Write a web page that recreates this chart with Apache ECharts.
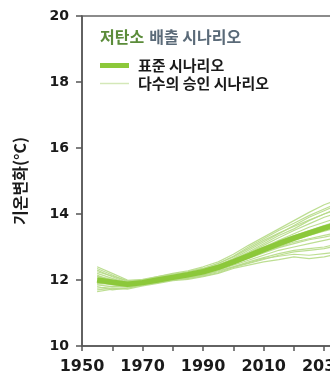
<!DOCTYPE html>
<html>
<head>
<meta charset="utf-8">
<script src="https://cdn.jsdelivr.net/npm/echarts@6/dist/echarts.min.js"></script>
<style>html,body{margin:0;padding:0;background:#fff;overflow:hidden;width:330px;height:380px;}#c{width:410px;height:380px;}</style>
</head>
<body>
<div id="c"></div>
<script>
const years = [1955,1960,1965,1970,1975,1980,1985,1990,1995,2000,2005,2010,2015,2020,2025,2030,2035];
const standard = [12.0,11.93,11.87,11.92,12.0,12.08,12.16,12.25,12.38,12.55,12.73,12.92,13.1,13.27,13.42,13.57,13.7];
const ens1  = [12.35,12.15,11.95,12.0,12.1,12.2,12.28,12.4,12.55,12.78,13.05,13.3,13.55,13.8,14.05,14.28,14.45];
const ens2  = [11.7,11.75,11.72,11.82,11.9,11.98,12.02,12.1,12.2,12.35,12.45,12.55,12.62,12.7,12.65,12.7,12.8];
const ens3  = [12.2,12.05,11.9,11.95,12.05,12.12,12.2,12.32,12.45,12.62,12.85,13.1,13.35,13.55,13.8,14.0,14.2];
const ens4  = [11.85,11.8,11.8,11.88,11.95,12.02,12.1,12.18,12.3,12.45,12.6,12.75,12.9,13.0,13.1,13.2,13.3];
const ens5  = [12.1,11.98,11.85,11.9,12.02,12.1,12.15,12.25,12.4,12.6,12.8,13.0,13.2,13.4,13.6,13.75,13.9];
const ens6  = [11.9,11.88,11.82,11.95,11.98,12.05,12.18,12.28,12.42,12.52,12.7,12.88,13.0,13.15,13.25,13.35,13.45];
const ens7  = [12.3,12.1,11.92,11.9,12.0,12.12,12.22,12.3,12.45,12.65,12.9,13.15,13.4,13.65,13.9,14.1,14.3];
const ens8  = [11.75,11.8,11.78,11.85,11.95,12.0,12.08,12.15,12.28,12.4,12.55,12.68,12.8,12.9,12.95,13.0,13.1];
const ens9  = [12.05,12.0,11.9,11.98,12.08,12.15,12.2,12.3,12.42,12.58,12.78,12.98,13.18,13.35,13.5,13.65,13.8];
const ens10 = [11.95,11.85,11.8,11.88,11.95,12.05,12.12,12.22,12.35,12.5,12.68,12.85,13.02,13.2,13.35,13.48,13.6];
const ens11 = [12.25,12.12,11.98,12.02,12.1,12.18,12.25,12.35,12.5,12.7,12.95,13.2,13.42,13.62,13.82,14.0,14.15];
const ens12 = [11.8,11.7,11.75,11.85,11.92,12.0,12.05,12.12,12.22,12.38,12.5,12.62,12.75,12.85,12.9,12.95,13.05];
const ens13 = [12.15,11.95,11.88,11.95,12.05,12.1,12.2,12.3,12.45,12.62,12.82,13.05,13.28,13.5,13.7,13.9,14.05];
const ens14 = [11.88,11.9,11.85,11.9,11.98,12.08,12.15,12.25,12.35,12.5,12.65,12.82,12.98,13.1,13.22,13.3,13.4];
const ens15 = [12.0,11.95,11.9,11.92,12.0,12.1,12.18,12.28,12.4,12.58,12.75,12.95,13.15,13.32,13.48,13.62,13.75];
const ens16 = [12.4,12.2,12.0,11.98,12.05,12.15,12.25,12.35,12.5,12.72,13.0,13.25,13.5,13.72,13.95,14.15,14.35];
const ens17 = [11.65,11.72,11.75,11.85,11.92,12.0,12.05,12.15,12.25,12.4,12.52,12.65,12.72,12.78,12.75,12.8,12.85];
const ens18 = [12.12,12.02,11.92,11.95,12.05,12.12,12.2,12.28,12.4,12.55,12.72,12.9,13.08,13.25,13.4,13.55,13.65];
const ensembles = [ens1,ens2,ens3,ens4,ens5,ens6,ens7,ens8,ens9,ens10,ens11,ens12,ens13,ens14,ens15,ens16,ens17,ens18];
const yTicks = [10,12,14,16,18,20];
const xLabels = [1950,1970,1990,2010,2030,2050];
const titleGreen = '저탄소';
const titleRest = '배출 시나리오';
const nameStandard = '표준 시나리오';
const nameEnsemble = '다수의 승인 시나리오';
const yName = '기온변화(°C)';

const pair = arr => years.map((y,i)=>[y,arr[i]]);
const series = ensembles.map(e => ({
  name: nameEnsemble, type:'line', data: pair(e), showSymbol:false, symbol:'none', silent:true,
  lineStyle:{color:'#b6da86', width:1.2, opacity:0.9}, itemStyle:{color:'#d2e8b6'}, z:2
}));
series.push({
  name: nameStandard, type:'line', data: pair(standard), showSymbol:false, symbol:'none',
  lineStyle:{color:'#8cc83a', width:5.5}, itemStyle:{color:'#8cc83a'}, z:5
});

const legendText = {fontSize:15, fontWeight:'bold', color:'#1a1a1a', fontFamily:'Noto Sans CJK KR', padding:[0,0,0,4]};
const chart = echarts.init(document.getElementById('c'), null, {renderer:'canvas'});
chart.setOption({
  animation:false,
  backgroundColor:'#fff',
  title:{
    text:'{g|'+titleGreen+'} {b|'+titleRest+'}', left:95, top:23,
    textStyle:{rich:{
      g:{color:'#5b8c3a', fontSize:16, fontWeight:'bold', fontFamily:'Noto Sans CJK KR'},
      b:{color:'#5a6a78', fontSize:16, fontWeight:'bold', fontFamily:'Noto Sans CJK KR'}
    }}
  },
  legend:[
    {left:95, top:53, itemWidth:29, itemHeight:5, icon:'rect', data:[nameStandard],
     itemStyle:{color:'#8cc83a'}, textStyle:legendText, selectedMode:false},
    {left:95, top:71, itemWidth:29, itemHeight:1.5, icon:'rect', data:[nameEnsemble],
     itemStyle:{color:'#d4e8b8'}, textStyle:legendText, selectedMode:false}
  ],
  grid:{left:82, top:16, bottom:34, right:8, show:true, borderColor:'#666', borderWidth:1.5},
  xAxis:{
    type:'value', min:1950, max:2050, interval:10,
    axisLine:{show:true, lineStyle:{color:'#555', width:1.5}},
    axisTick:{show:true, length:5, lineStyle:{color:'#555', width:1.5}},
    splitLine:{show:false},
    axisLabel:{margin:13, fontSize:16, fontWeight:'bold', color:'#1a1a1a', fontFamily:'DejaVu Sans',
      formatter: v => xLabels.indexOf(v) >= 0 ? String(v) : ''}
  },
  yAxis:{
    type:'value', min:10, max:20, interval:2,
    name:yName, nameLocation:'middle', nameGap:54, nameRotate:90,
    nameTextStyle:{fontSize:16, fontWeight:'bold', color:'#1a1a1a', fontFamily:'Noto Sans CJK KR'},
    axisLine:{show:true, lineStyle:{color:'#555', width:1.5}},
    axisTick:{show:true, length:6, lineStyle:{color:'#555', width:1.5}},
    splitLine:{show:false},
    axisLabel:{margin:13, fontSize:14, fontWeight:'bold', color:'#1a1a1a', fontFamily:'DejaVu Sans',
      formatter: v => yTicks.indexOf(v) >= 0 ? String(v) : ''}
  },
  series: series
});
</script>
</body>
</html>
